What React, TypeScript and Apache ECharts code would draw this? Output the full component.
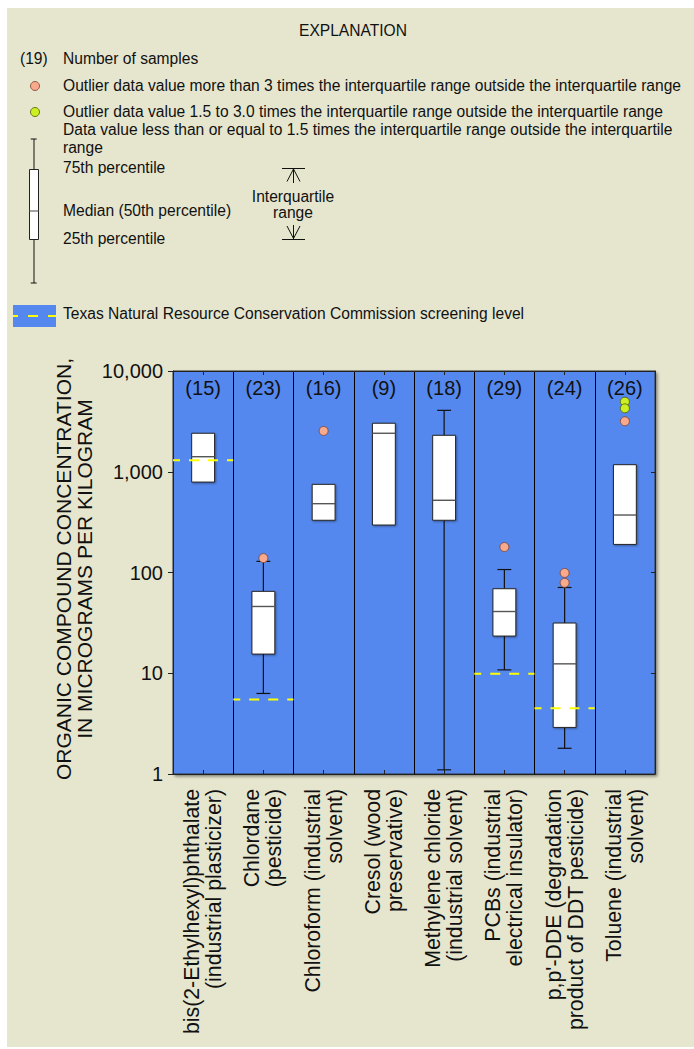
import React, { useEffect, useRef } from "react";
import * as echarts from "echarts";

const categories = [
  "bis(2-Ethylhexyl)phthalate\n(industrial plasticizer)",
  "Chlordane\n(pesticide)",
  "Chloroform (industrial\nsolvent)",
  "Cresol (wood\npreservative)",
  "Methylene chloride\n(industrial solvent)",
  "PCBs (industrial\nelectrical insulator)",
  "p,p'-DDE (degradation\nproduct of DDT pesticide)",
  "Toluene (industrial\nsolvent)",
];
const sampleCounts = [15, 23, 16, 9, 18, 29, 24, 26];
const whiskerLow: (number | null)[] = [null, 6.3, null, null, 1.1, 10.8, 1.8, null];
const q1 = [790, 15.5, 330, 296, 330, 23.4, 2.9, 190];
const median = [1410, 46, 482, 2410, 521, 41, 12.4, 372];
const q3 = [2410, 65, 750, 3030, 2300, 69, 31.5, 1175];
const whiskerHigh: (number | null)[] = [null, 129, null, null, 4070, 107, 71, null];
const extremeOutliers = [
  [1, 139],
  [2, 2540],
  [5, 179],
  [6, 99],
  [6, 79],
  [7, 3170],
];
const moderateOutliers = [
  [7, 4960],
  [7, 4260],
];
const screeningLevel: (number | null)[] = [1300, 5.5, null, null, null, 9.9, 4.5, null];
const yTicks = [1, 10, 100, 1000, 10000];

const FONT = "'Liberation Sans', Arial, Helvetica, sans-serif";
const BLUE = "#5588EE";
const RED = "#F9A98C";
const GREEN = "#CCEE22";
const LEG = 15.6;

function txt(text: string, x: number, y: number, align = "left", size = LEG) {
  return {
    type: "text",
    x,
    y,
    silent: true,
    style: {
      text,
      fontSize: size,
      fontFamily: FONT,
      fill: "#111",
      align,
      textAlign: align,
      verticalAlign: "middle",
      textVerticalAlign: "middle",
    },
  };
}
function ln(x1: number, y1: number, x2: number, y2: number, stroke = "#111", lineWidth = 1) {
  return { type: "line", silent: true, shape: { x1, y1, x2, y2 }, style: { stroke, lineWidth } };
}

export default function App() {
  const ref = useRef<HTMLDivElement>(null);
  useEffect(() => {
    if (!ref.current) return;
    const chart = echarts.init(ref.current, null, { renderer: "svg" });

    const legend: any[] = [
      txt("EXPLANATION", 353, 30, "center"),
      txt("(19)", 20, 58),
      txt("Number of samples", 63, 58),
      { type: "circle", shape: { cx: 35, cy: 86, r: 4.5 }, style: { fill: RED, stroke: "#7a4030", lineWidth: 0.8 } },
      txt("Outlier data value more than 3 times the interquartile range outside the interquartile range", 63, 85),
      { type: "circle", shape: { cx: 35, cy: 112, r: 4.5 }, style: { fill: GREEN, stroke: "#4a5a00", lineWidth: 0.8 } },
      txt("Outlier data value 1.5 to 3.0 times the interquartile range outside the interquartile range", 63, 111),
      txt("Data value less than or equal to 1.5 times the interquartile range outside the interquartile", 63, 129.5),
      txt("range", 63, 147),
      txt("75th percentile", 63, 167),
      txt("Median (50th percentile)", 63, 210),
      txt("25th percentile", 63, 238),
      txt("Interquartile", 293, 196, "center"),
      txt("range", 293, 212, "center"),
      // legend box icon
      ln(34, 139, 34, 283),
      ln(30.7, 139, 36.7, 139),
      ln(30.7, 283, 36.7, 283),
      { type: "rect", shape: { x: 29.5, y: 169.5, width: 9, height: 70 }, style: { fill: "#fff", stroke: "#222", lineWidth: 1 } },
      ln(29.5, 211, 38.5, 211, "#666", 1.2),
      // interquartile arrows
      ln(282, 168.5, 305, 168.5),
      ln(293.5, 169, 293.5, 183),
      { type: "polyline", shape: { points: [[287, 181.5], [293.5, 169], [300, 181.5]] }, style: { stroke: "#111", fill: "none", lineWidth: 1 } },
      ln(282, 239.5, 305, 239.5),
      ln(293.5, 225, 293.5, 239),
      { type: "polyline", shape: { points: [[287, 226], [293.5, 238.5], [300, 226]] }, style: { stroke: "#111", fill: "none", lineWidth: 1 } },
      // screening swatch
      { type: "rect", shape: { x: 13, y: 305, width: 43, height: 22 }, style: { fill: BLUE } },
      { type: "line", shape: { x1: 13, y1: 316, x2: 56, y2: 316 }, style: { stroke: "#FFFF00", lineWidth: 2, lineDash: [10, 10], lineDashOffset: 5 } },
      txt("Texas Natural Resource Conservation Commission screening level", 63, 313),
      // y axis title
      {
        type: "text",
        x: 74,
        y: 569,
        rotation: Math.PI / 2,
        silent: true,
        style: {
          text: "ORGANIC COMPOUND CONCENTRATION,\nIN MICROGRAMS PER KILOGRAM",
          fontSize: 21,
          lineHeight: 21,
          fontFamily: FONT,
          fill: "#111",
          align: "center",
          textAlign: "center",
          verticalAlign: "middle",
          textVerticalAlign: "middle",
        },
      },
    ];

    const boxData = categories.map((_, i) => [i, q1[i], median[i], q3[i]]);
    const screenData = screeningLevel
      .map((v, i) => (v == null ? null : [i, v]))
      .filter((d) => d != null);

    const option: any = {
      animation: false,
      graphic: legend,
      grid: {
        left: 173,
        right: 39,
        top: 371,
        bottom: 275,
        show: true,
        backgroundColor: BLUE,
        borderColor: "#333",
        borderWidth: 1,
        shadowColor: "rgba(0,0,0,0.45)",
        shadowBlur: 3,
        shadowOffsetX: 2,
        shadowOffsetY: 2,
      },
      xAxis: [
        {
          type: "category",
          data: categories,
          position: "bottom",
          boundaryGap: true,
          axisLine: { show: true, lineStyle: { color: "#222", width: 1 } },
          axisTick: { show: true, inside: true, length: 4, alignWithLabel: true, interval: 0, lineStyle: { color: "#222" } },
          axisLabel: {
            interval: 0,
            rotate: 90,
            margin: 15,
            fontSize: 21.3,
            lineHeight: 22,
            fontFamily: FONT,
            color: "#111",
          },
          splitLine: { show: true, interval: 0, lineStyle: { color: "#000", width: 1 } },
        },
        {
          type: "category",
          data: sampleCounts.map((n) => `(${n})`),
          position: "top",
          boundaryGap: true,
          axisLine: { show: true, lineStyle: { color: "#222", width: 1 } },
          axisTick: { show: true, inside: true, length: 4, alignWithLabel: true, interval: 0, lineStyle: { color: "#222" } },
          axisLabel: { inside: true, interval: 0, margin: 7, fontSize: 20, fontFamily: FONT, color: "#111" },
          splitLine: { show: false },
        },
      ],
      yAxis: [
        {
          type: "log",
          logBase: 10,
          min: yTicks[0],
          max: yTicks[yTicks.length - 1],
          position: "left",
          axisLine: { show: true, lineStyle: { color: "#222", width: 1 } },
          axisTick: { show: true, inside: false, length: 5, lineStyle: { color: "#222" } },
          axisLabel: {
            margin: 10,
            fontSize: 20,
            fontFamily: FONT,
            color: "#111",
            formatter: (v: number) => Math.round(v).toLocaleString("en-US"),
          },
          splitLine: { show: false },
        },
        {
          type: "log",
          logBase: 10,
          min: yTicks[0],
          max: yTicks[yTicks.length - 1],
          position: "right",
          axisLine: { show: true, lineStyle: { color: "#222", width: 1 } },
          axisTick: { show: true, inside: true, length: 4, lineStyle: { color: "#222" } },
          axisLabel: { show: false },
          splitLine: { show: false },
        },
      ],
      series: [
        {
          type: "custom",
          name: "boxes",
          xAxisIndex: 0,
          yAxisIndex: 0,
          z: 3,
          data: boxData,
          renderItem: (params: any, api: any) => {
            const idx = params.dataIndex;
            const i = api.value(0);
            const band = api.size([1, 1])[0];
            const boxW = band * 0.38;
            const capW = band * 0.23;
            const pQ1 = api.coord([i, api.value(1)]);
            const pMed = api.coord([i, api.value(2)]);
            const pQ3 = api.coord([i, api.value(3)]);
            const cx = pQ1[0];
            const children: any[] = [];
            const hi = whiskerHigh[idx];
            const lo = whiskerLow[idx];
            const wStyle = { stroke: "#111", lineWidth: 1.2 };
            if (hi != null) {
              const pHi = api.coord([i, hi]);
              children.push({ type: "line", shape: { x1: cx, y1: pQ3[1], x2: cx, y2: pHi[1] }, style: wStyle });
              children.push({ type: "line", shape: { x1: cx - capW / 2, y1: pHi[1], x2: cx + capW / 2, y2: pHi[1] }, style: wStyle });
            }
            if (lo != null) {
              const pLo = api.coord([i, lo]);
              children.push({ type: "line", shape: { x1: cx, y1: pQ1[1], x2: cx, y2: pLo[1] }, style: wStyle });
              children.push({ type: "line", shape: { x1: cx - capW / 2, y1: pLo[1], x2: cx + capW / 2, y2: pLo[1] }, style: wStyle });
            }
            children.push({
              type: "rect",
              shape: { x: cx - boxW / 2, y: pQ3[1], width: boxW, height: pQ1[1] - pQ3[1] },
              style: { fill: "#fff", stroke: "#222", lineWidth: 1, shadowColor: "rgba(0,0,0,0.35)", shadowBlur: 2, shadowOffsetX: 1, shadowOffsetY: 1 },
            });
            children.push({
              type: "line",
              shape: { x1: cx - boxW / 2, y1: pMed[1], x2: cx + boxW / 2, y2: pMed[1] },
              style: { stroke: "#555", lineWidth: 1.4 },
            });
            return { type: "group", children };
          },
        },
        {
          type: "custom",
          name: "screening",
          xAxisIndex: 0,
          yAxisIndex: 0,
          z: 5,
          data: screenData,
          renderItem: (params: any, api: any) => {
            const i = api.value(0);
            const band = api.size([1, 1])[0];
            const p = api.coord([i, api.value(1)]);
            return {
              type: "line",
              shape: { x1: p[0] - band / 2, y1: p[1], x2: p[0] + band / 2, y2: p[1] },
              style: { stroke: "#FFFF00", lineWidth: 2, lineDash: [10, 9], lineDashOffset: 3 },
            };
          },
        },
        {
          type: "scatter",
          name: "extreme",
          xAxisIndex: 0,
          yAxisIndex: 0,
          z: 4,
          symbol: "circle",
          symbolSize: 9,
          data: extremeOutliers,
          itemStyle: { color: RED, borderColor: "#7a4030", borderWidth: 0.8, opacity: 1 },
        },
        {
          type: "scatter",
          name: "moderate",
          xAxisIndex: 0,
          yAxisIndex: 0,
          z: 4,
          symbol: "circle",
          symbolSize: 9,
          data: moderateOutliers,
          itemStyle: { color: GREEN, borderColor: "#4a5a00", borderWidth: 0.8, opacity: 1 },
        },
      ],
    };
    chart.setOption(option);
    return () => chart.dispose();
  }, []);

  return (
    <div style={{ position: "fixed", left: 0, top: 0, width: 694, height: 1049, background: "#fff" }}>
      <div style={{ position: "absolute", left: 7, top: 8, width: 687, height: 1039, background: "#E6E6CF" }} />
      <div ref={ref} style={{ position: "absolute", left: 0, top: 0, width: 694, height: 1049 }} />
    </div>
  );
}
